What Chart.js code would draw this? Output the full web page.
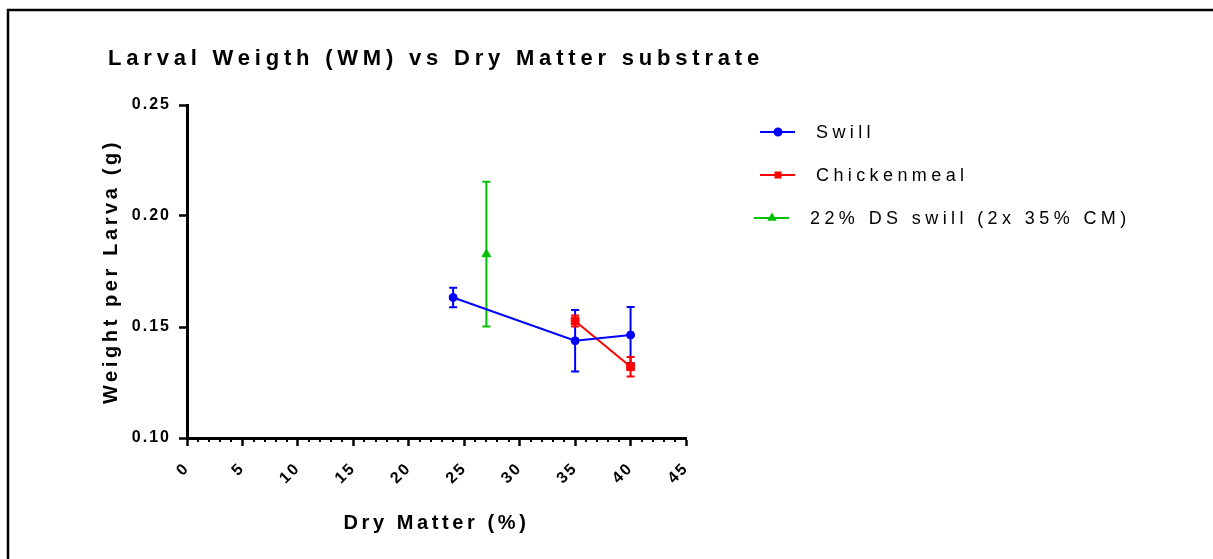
<!DOCTYPE html>
<html>
<head>
<meta charset="utf-8">
<script src="https://cdn.jsdelivr.net/npm/chart.js@4.4.0/dist/chart.umd.min.js"></script>
<style>
  html, body { margin: 0; padding: 0; background: #fff; }
  canvas { display: block; }
</style>
</head>
<body>
<canvas id="myChart" width="1213" height="559"></canvas>
<script>
const ctx = document.getElementById('myChart').getContext('2d');

const FONT = "'Liberation Sans', Arial, Helvetica, sans-serif";

// series values (x = dry matter %, y = weight per larva in g, err = SEM)
const swillX = [24, 35, 40];
const swillY = [0.1633, 0.1438, 0.1464];
const swillErr = [0.0044, 0.0139, 0.0126];

const chickenX = [35, 40];
const chickenY = [0.1527, 0.1321];
const chickenErr = [0.0025, 0.0044];

const dsX = [27];
const dsY = [0.1828];
const dsErr = [0.0326];

const seriesNames = ['Swill', 'Chickenmeal', '22% DS swill (2x 35% CM)'];
const xTicks = [0, 5, 10, 15, 20, 25, 30, 35, 40, 45];
const yTicks = [0.10, 0.15, 0.20, 0.25];

const chartTitle = 'Larval Weigth (WM) vs Dry Matter substrate';
const xTitle = 'Dry Matter (%)';
const yTitle = 'Weight per Larva (g)';

function points(xs, ys) {
    return xs.map((x, i) => ({ x: x, y: ys[i] }));
}

function series(label, xs, ys, errs, color, style, radius) {
    return {
        label: label,
        data: points(xs, ys),
        errors: errs,
        showLine: true,
        borderColor: color,
        backgroundColor: color,
        borderWidth: 2,
        pointStyle: style,
        pointRadius: radius,
        pointHoverRadius: radius,
        pointBorderWidth: 1
    };
}

// draws error bars, minor ticks, axis titles, frame, title and legend
const extras = {
    id: 'extras',
    beforeUpdate(chart) { chart.ctx.letterSpacing = '2px'; },
    beforeDraw(chart) { chart.ctx.letterSpacing = '2px'; },
    beforeDatasetsDraw(chart) {
        const c = chart.ctx;
        const xs = chart.scales.x, ys = chart.scales.y;
        c.save();
        chart.data.datasets.forEach(ds => {
            c.strokeStyle = ds.borderColor;
            c.lineWidth = 2;
            ds.data.forEach((p, j) => {
                const px = xs.getPixelForValue(p.x);
                const top = ys.getPixelForValue(p.y + ds.errors[j]);
                const bot = ys.getPixelForValue(p.y - ds.errors[j]);
                c.beginPath();
                c.moveTo(px, top); c.lineTo(px, bot);
                c.moveTo(px - 4, top); c.lineTo(px + 4, top);
                c.moveTo(px - 4, bot); c.lineTo(px + 4, bot);
                c.stroke();
            });
        });
        c.restore();
    },
    afterDraw(chart) {
        const c = chart.ctx;
        const xs = chart.scales.x;
        const area = chart.chartArea;
        c.save();

        // minor ticks on the x axis
        c.strokeStyle = '#000';
        c.lineWidth = 2;
        c.beginPath();
        for (let v = xs.min; v <= xs.max; v++) {
            if (v % 5 === 0) continue;
            const px = Math.round(xs.getPixelForValue(v));
            c.moveTo(px, area.bottom);
            c.lineTo(px, area.bottom + 4);
        }
        c.stroke();

        // outer frame
        c.lineWidth = 2.5;
        c.beginPath();
        c.moveTo(8, 559);
        c.lineTo(8, 10);
        c.lineTo(1213, 10);
        c.stroke();

        c.fillStyle = '#000';

        // axis titles
        c.font = 'bold 20px ' + FONT;
        c.letterSpacing = '3.6px';
        c.textAlign = 'center';
        c.textBaseline = 'middle';
        c.fillText(xTitle, (area.left + area.right) / 2, 523);
        c.save();
        c.translate(111, (area.top + area.bottom) / 2);
        c.rotate(-Math.PI / 2);
        c.fillText(yTitle, 0, 0);
        c.restore();

        // title
        c.font = 'bold 22px ' + FONT;
        c.letterSpacing = '4.8px';
        c.textAlign = 'left';
        c.textBaseline = 'alphabetic';
        c.fillText(chartTitle, 108, 65);

        // legend
        const rows = [132, 175, 218];
        const shift = [0, 0, -6];
        c.font = '18px ' + FONT;
        c.letterSpacing = '4.4px';
        c.textBaseline = 'middle';
        chart.data.datasets.forEach((ds, i) => {
            const y = rows[i];
            const x0 = 760 + shift[i];
            c.strokeStyle = ds.borderColor;
            c.fillStyle = ds.backgroundColor;
            c.lineWidth = 2;
            c.beginPath();
            c.moveTo(x0, y); c.lineTo(x0 + 35, y);
            c.stroke();
            Chart.helpers.drawPoint(c, { pointStyle: ds.pointStyle, radius: 3.5, rotation: 0, borderWidth: 1 }, x0 + 18, y);
            c.fillStyle = '#000';
            c.fillText(ds.label, x0 + 56, y + 1);
        });
        c.restore();
    }
};

const myChart = new Chart(ctx, {
    type: 'scatter',
    data: {
        datasets: [
            series(seriesNames[0], swillX, swillY, swillErr, '#0000FF', 'circle', 4),
            series(seriesNames[1], chickenX, chickenY, chickenErr, '#FF0000', 'rect', 5.5),
            series(seriesNames[2], dsX, dsY, dsErr, '#00C000', 'triangle', 5)
        ]
    },
    options: {
        responsive: false,
        animation: false,
        layout: { padding: { left: 87, right: 527, top: 105, bottom: 21 } },
        plugins: {
            legend: { display: false },
            title: { display: false },
            tooltip: { enabled: false }
        },
        scales: {
            x: {
                type: 'linear',
                min: xTicks[0],
                max: xTicks[xTicks.length - 1],
                afterBuildTicks: s => { s.ticks = xTicks.map(v => ({ value: v })); },
                afterFit: s => { s.height = 100; },
                grid: { drawOnChartArea: false, drawTicks: true, tickLength: 8, tickWidth: 2.5, tickColor: '#000' },
                border: { display: true, color: '#000', width: 3 },
                ticks: {
                    color: '#000',
                    font: { family: FONT, size: 16, weight: 'bold' },
                    minRotation: 45,
                    maxRotation: 45,
                    padding: 13,
                    labelOffset: 0,
                    autoSkip: false
                }
            },
            y: {
                type: 'linear',
                min: yTicks[0],
                max: yTicks[yTicks.length - 1],
                afterBuildTicks: s => { s.ticks = yTicks.map(v => ({ value: v })); },
                afterFit: s => { s.width = 100; },
                grid: { drawOnChartArea: false, drawTicks: true, tickLength: 8, tickWidth: 2.5, tickColor: '#000' },
                border: { display: true, color: '#000', width: 3 },
                ticks: {
                    color: '#000',
                    font: { family: FONT, size: 16, weight: 'bold' },
                    padding: 8,
                    callback: v => v.toFixed(2)
                }
            }
        }
    },
    plugins: [extras]
});
</script>
</body>
</html>
